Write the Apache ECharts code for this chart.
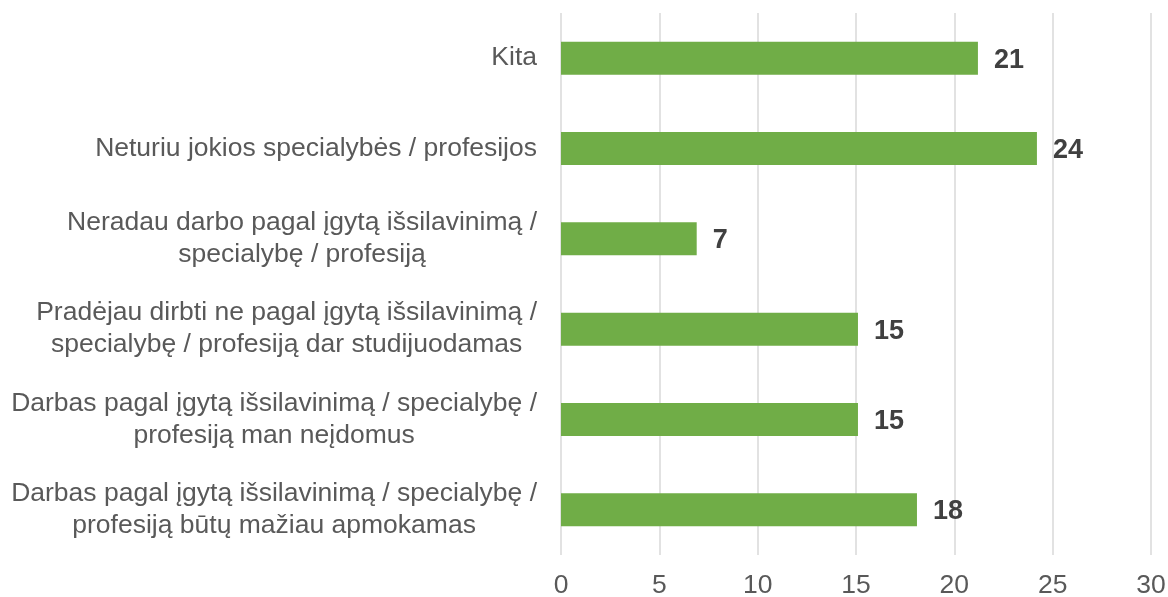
<!DOCTYPE html>
<html>
<head>
<meta charset="utf-8">
<script src="https://cdn.jsdelivr.net/npm/echarts@6/dist/echarts.min.js"></script>
<style>
    html, body { margin: 0; padding: 0; background: #fff; }
    #chart { width: 1168px; height: 597px; }
</style>
</head>
<body>
<div id="chart"></div>
<script>
// kategorijos, iš viršaus į apačią
var categories = [
    'Kita',
    'Neturiu jokios specialybės / profesijos',
    'Neradau darbo pagal įgytą išsilavinimą /\nspecialybę / profesiją',
    'Pradėjau dirbti ne pagal įgytą išsilavinimą /\nspecialybę / profesiją dar studijuodamas',
    'Darbas pagal įgytą išsilavinimą / specialybę /\nprofesiją man neįdomus',
    'Darbas pagal įgytą išsilavinimą / specialybę /\nprofesiją būtų mažiau apmokamas'
];
var values = [21.2, 24.2, 6.9, 15.1, 15.1, 18.1];
var xTicks = [0, 5, 10, 15, 20, 25, 30];

var fontName = '"Liberation Sans", Arial, sans-serif';

var myChart = echarts.init(document.getElementById('chart'));
var option = {
    animation: false,
    grid: {
        left: 561,
        right: 17,
        top: 13,
        bottom: 42,
        outerBoundsMode: 'none'
    },
    xAxis: {
        type: 'value',
        min: xTicks[0],
        max: xTicks[xTicks.length - 1],
        interval: 5,
        axisLine: {show: false},
        axisTick: {show: false},
        splitLine: {lineStyle: {color: '#d9d9d9', width: 1.5}},
        axisLabel: {
            color: '#595959',
            fontSize: 26.5,
            fontFamily: fontName,
            margin: 17
        }
    },
    yAxis: {
        type: 'category',
        inverse: true,
        data: categories,
        axisLine: {show: false},
        axisTick: {show: false},
        axisLabel: {
            margin: 24,
            color: '#595959',
            fontSize: 26.5,
            fontFamily: fontName,
            lineHeight: 32,
            formatter: function (val) {
                return val.split('\n').map(function (s) {
                    return '{c|' + s + '}';
                }).join('\n');
            },
            rich: {
                c: {
                    align: 'center',
                    color: '#595959',
                    fontSize: 26.5,
                    fontFamily: fontName,
                    lineHeight: 32
                }
            }
        }
    },
    series: [
        {
            type: 'bar',
            data: values,
            barWidth: 33,
            itemStyle: {color: '#70ad47'},
            label: {
                show: true,
                position: 'right',
                distance: 16,
                color: '#404040',
                fontWeight: 'bold',
                fontSize: 27,
                fontFamily: fontName,
                offset: [0, 2],
                formatter: function (p) {
                    return Math.round(p.value);
                }
            }
        }
    ]
};
myChart.setOption(option);
</script>
</body>
</html>
